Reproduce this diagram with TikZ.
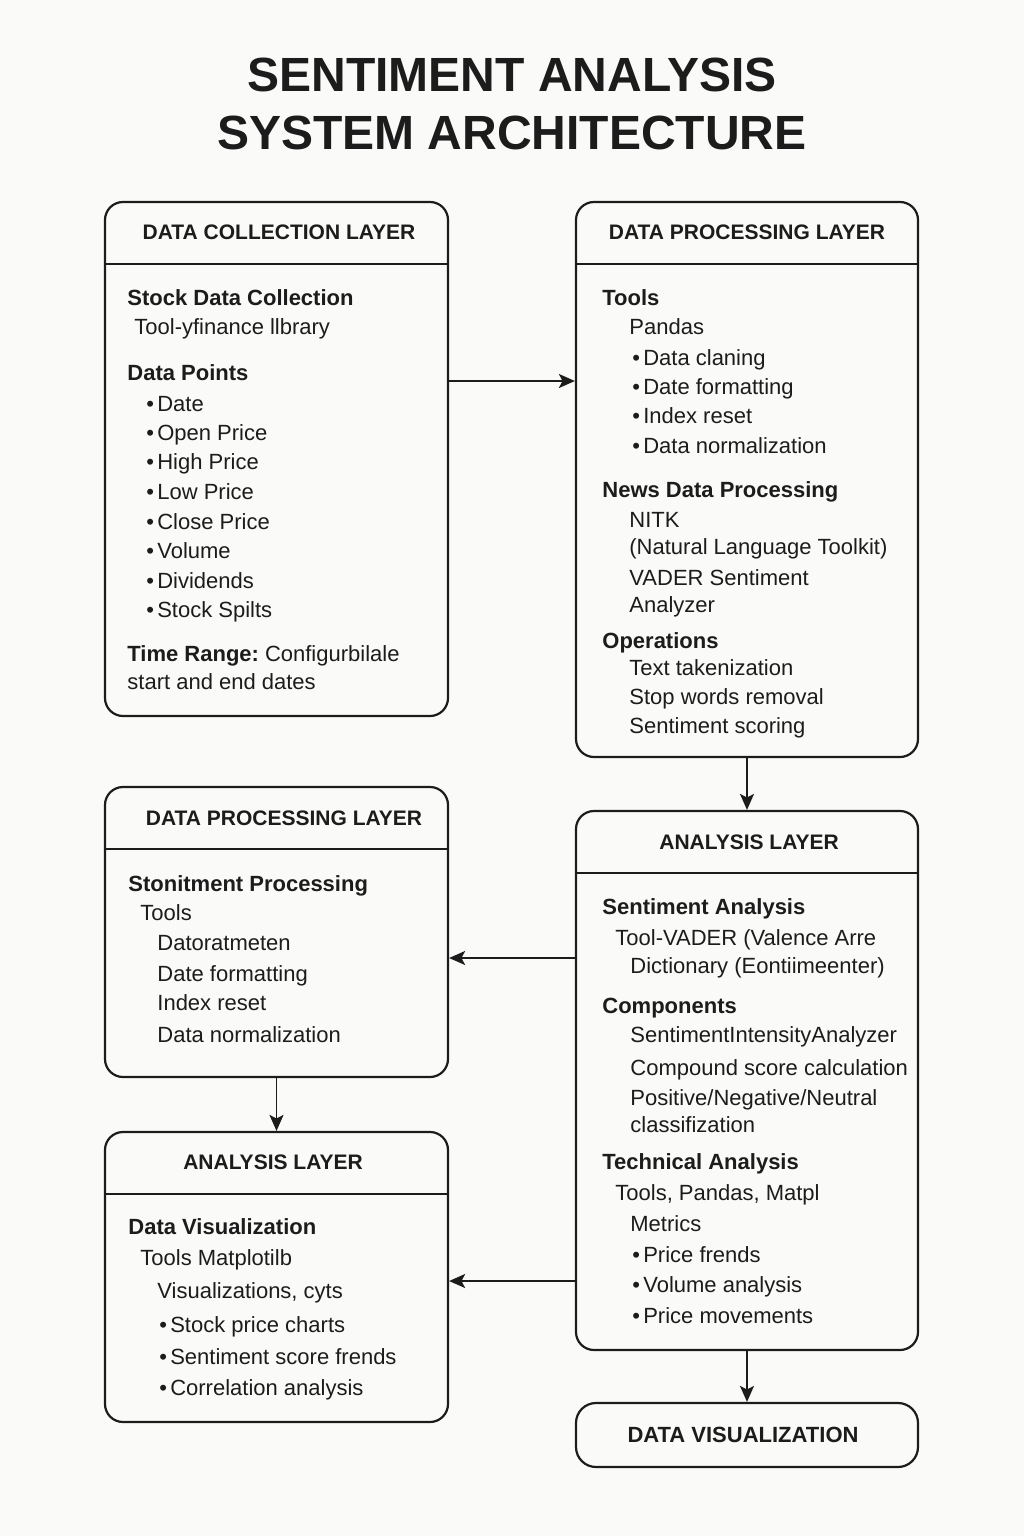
\documentclass[tikz,border=0pt]{standalone}
\usepackage{fontspec}
\setmainfont{Liberation Sans}
\usetikzlibrary{arrows.meta, positioning, fit}

\definecolor{inkdark}{RGB}{28,28,28}
\definecolor{paper}{RGB}{250,250,248}

% bullet and header rule of each layer box
\newcommand{\bul}{•\hspace{1.6pt}}
\newcommand{\headrule}[1]{\draw[boxline] ([yshift=-31.5pt]#1.north west) -- ([yshift=-31.5pt]#1.north east);}

\begin{document}
\begin{tikzpicture}[x=0.5pt, y=-0.5pt,
    layerbox/.style={draw=inkdark, line width=1.1pt, rounded corners=9pt, inner sep=0pt},
    boxline/.style={draw=inkdark, line width=1pt},
    head/.style={font=\bfseries\fontsize{10.5}{12}\selectfont, text=inkdark},
    txt/.style={anchor=base west, inner sep=0pt, font=\fontsize{11}{13}\selectfont, text=inkdark},
    flow/.style={-{Stealth[length=8pt, width=7pt, inset=1.8pt]}, line width=0.9pt, draw=inkdark},
    title/.style={anchor=base, font=\bfseries\fontsize{24}{29}\selectfont, text=inkdark}
]

% Fondo y marco
\useasboundingbox (0,0) rectangle (1024,1536);
\fill[paper] (0,0) rectangle (1024,1536);

% Titulo
\node[title] (t1) at (512,91) {SENTIMENT ANALYSIS};
\node[title] (t2) at (512,149) {SYSTEM ARCHITECTURE};

% ============ Cajas de capas ============
\node[layerbox, fit={(105,202) (448,716)}] (dc) {};
\node[layerbox, fit={(576,202) (918,757)}] (dp) {};
\node[layerbox, fit={(105,787) (448,1077)}] (sp) {};
\node[layerbox, fit={(576,811) (918,1350)}] (an) {};
\node[layerbox, fit={(105,1132) (448,1422)}] (av) {};
\node[layerbox, rounded corners=10pt, fit={(576,1403) (918,1467)}] (dv) {};

\headrule{dc}
\headrule{dp}
\headrule{sp}
\headrule{an}
\headrule{av}

% Encabezados
\node[head] (dch) at (279,232) {DATA COLLECTION LAYER};
\node[head] (dph) at (747,232) {DATA PROCESSING LAYER};
\node[head] (sph) at (284,818) {DATA PROCESSING LAYER};
\node[head] (anh) at (749,842) {ANALYSIS LAYER};
\node[head] (avh) at (273,1162) {ANALYSIS LAYER};
\node[head, font=\bfseries\fontsize{11}{13}\selectfont] (dvh) at (743,1435) {DATA VISUALIZATION};

% ============ Contenido: Data Collection ============
\foreach \x/\y/\t [count=\i] in {
    127/297/{\bfseries Stock Data Collection},
    134/326/{Tool-yfinance llbrary},
    127/372/{\bfseries Data Points},
    146/403/{\bul Date},
    146/432/{\bul Open Price},
    146/461/{\bul High Price},
    146/491/{\bul Low Price},
    146/521/{\bul Close Price},
    146/550/{\bul Volume},
    146/580/{\bul Dividends},
    146/609/{\bul Stock Spilts},
    127/653/{\textbf{Time Range:}\hspace{3pt}Configurbilale},
    127/681/{start and end dates}}
    \node[txt] (dc\i) at (\x,\y+8) {\t};

% ============ Contenido: Data Processing (derecha) ============
\foreach \x/\y/\t [count=\i] in {
    602/297/{\bfseries Tools},
    629/326/{Pandas},
    632/357/{\bul Data claning},
    632/386/{\bul Date formatting},
    632/415/{\bul Index reset},
    632/445/{\bul Data normalization},
    602/489/{\bfseries News Data Processing},
    629/519/{NITK},
    629/546/{(Natural Language Toolkit)},
    629/577/{VADER Sentiment},
    629/604/{Analyzer},
    602/640/{\bfseries Operations},
    629/667/{Text takenization},
    629/696/{Stop words removal},
    629/725/{Sentiment scoring}}
    \node[txt] (dp\i) at (\x,\y+8) {\t};

% ============ Contenido: Data Processing (izquierda) ============
\foreach \x/\y/\t [count=\i] in {
    128/883/{\bfseries Stonitment Processing},
    140/912/{Tools},
    157/942/{Datoratmeten},
    157/973/{Date formatting},
    157/1002/{Index reset},
    157/1034/{Data normalization}}
    \node[txt] (sp\i) at (\x,\y+8) {\t};

% ============ Contenido: Analysis (derecha) ============
\foreach \x/\y/\t [count=\i] in {
    602/906/{\bfseries Sentiment Analysis},
    615/937/{Tool-VADER (Valence Arre},
    630/965/{Dictionary (Eontiimeenter)},
    602/1005/{\bfseries Components},
    630/1034/{SentimentIntensityAnalyzer},
    630/1067/{Compound score calculation},
    630/1097/{Positive/Negative/Neutral},
    630/1124/{classifization},
    602/1161/{\bfseries Technical Analysis},
    615/1192/{Tools, Pandas, Matpl},
    630/1223/{Metrics},
    632/1254/{\bul Price frends},
    632/1284/{\bul Volume analysis},
    632/1315/{\bul Price movements}}
    \node[txt] (an\i) at (\x,\y+8) {\t};

% ============ Contenido: Analysis (izquierda) ============
\foreach \x/\y/\t [count=\i] in {
    128/1226/{\bfseries Data Visualization},
    140/1257/{Tools Matplotilb},
    157/1290/{Visualizations, cyts},
    159/1324/{\bul Stock price charts},
    159/1356/{\bul Sentiment score frends},
    159/1387/{\bul Correlation analysis}}
    \node[txt] (av\i) at (\x,\y+8) {\t};

% ============ Flechas ============
\coordinate (r1) at (0,381);
\coordinate (r2) at (0,958);
\coordinate (r3) at (0,1281);
\draw[flow] (dc.east |- r1) -- (dp.west |- r1);
\draw[flow] (dp.south) -- (an.north);
\draw[flow] (an.west |- r2) -- (sp.east |- r2);
\draw[flow] (sp.south) -- (av.north);
\draw[flow] (an.west |- r3) -- (av.east |- r3);
\draw[flow] (an.south) -- (dv.north);

\end{tikzpicture}
\end{document}
